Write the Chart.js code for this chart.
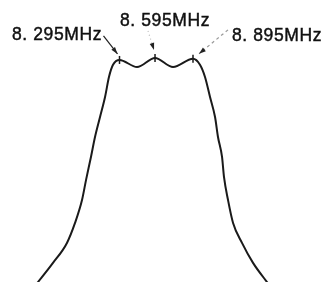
<!DOCTYPE html>
<html lang="en">
<head>
    <meta charset="UTF-8">
    <title>Passband response</title>
    <script src="https://cdn.jsdelivr.net/npm/chart.js@4.4.0/dist/chart.umd.min.js"></script>
    <style>
        html, body { margin: 0; padding: 0; background: #fff; }
        #wrap { width: 321px; height: 282px; }
    </style>
</head>
<body>
    <div id="wrap"><canvas id="bandChart" width="321" height="282"></canvas></div>
    <script>
        // curve: frequency (MHz) vs relative response
        const freqMHz = [7.564, 7.630, 7.752, 7.866, 7.932, 7.989, 8.022, 8.062, 8.095, 8.136, 8.177, 8.209, 8.242, 8.295,
                         8.438, 8.585, 8.732, 8.895,
                         8.952, 8.993, 9.034, 9.075, 9.099, 9.132, 9.148, 9.181, 9.222, 9.295, 9.385, 9.499, 9.564];
        const response = [-0.045, 0, 0.086, 0.176, 0.266, 0.369, 0.460, 0.563, 0.653, 0.743, 0.833, 0.923, 0.978, 1.0,
                          0.968, 1.009, 0.968, 1.005,
                          0.978, 0.923, 0.833, 0.743, 0.653, 0.563, 0.473, 0.369, 0.266, 0.176, 0.086, 0, -0.045];

        // the three marked peaks
        const peakFreqMHz = [8.295, 8.585, 8.895];
        const peakResponse = [1.0, 1.009, 1.005];
        const peakLabels = ['8. 295MHz', '8. 595MHz', '8. 895MHz'];

        // label placement: text start/baseline, arrow tail and tip relative to the peak, line style
        const marks = [
            { tx: 12, ty: 40, tail: [-16, -24], tip: [-2, -6], dash: [], color: '#222' },
            { tx: 120, ty: 26, tail: [-7, -27], tip: [-1, -8], dash: [1, 3], color: '#bbb' },
            { tx: 232, ty: 41, tail: [35, -29], tip: [6, -5], dash: [3, 3], color: '#999' }
        ];

        function arrowHead(ctx, x0, y0, x1, y1) {
            const a = Math.atan2(y1 - y0, x1 - x0);
            const len = 7, hw = 2.3;
            ctx.beginPath();
            ctx.moveTo(x1, y1);
            ctx.lineTo(x1 - len * Math.cos(a) + hw * Math.sin(a), y1 - len * Math.sin(a) - hw * Math.cos(a));
            ctx.lineTo(x1 - len * Math.cos(a) - hw * Math.sin(a), y1 - len * Math.sin(a) + hw * Math.cos(a));
            ctx.closePath();
            ctx.fill();
        }

        const peakNotes = {
            id: 'peakNotes',
            afterDatasetsDraw(chart) {
                const ctx = chart.ctx;
                const xs = chart.scales.x, ys = chart.scales.y;
                ctx.save();
                ctx.font = '17.5px "Liberation Sans", Arial, sans-serif';
                ctx.letterSpacing = '0.6px';
                ctx.textBaseline = 'alphabetic';
                peakLabels.forEach((label, i) => {
                    const m = marks[i];
                    const px = xs.getPixelForValue(peakFreqMHz[i]);
                    const py = ys.getPixelForValue(peakResponse[i]);
                    ctx.fillStyle = '#111';
                    ctx.strokeStyle = '#111';
                    ctx.lineWidth = 0.45;
                    ctx.fillText(label, m.tx, m.ty);
                    ctx.strokeText(label, m.tx, m.ty);

                    const x0 = px + m.tail[0], y0 = py + m.tail[1];
                    const x1 = px + m.tip[0], y1 = py + m.tip[1];
                    ctx.strokeStyle = m.color;
                    ctx.lineWidth = 1.2;
                    ctx.setLineDash(m.dash);
                    ctx.beginPath();
                    ctx.moveTo(x0, y0);
                    ctx.lineTo(x1, y1);
                    ctx.stroke();
                    ctx.setLineDash([]);
                    ctx.fillStyle = '#222';
                    arrowHead(ctx, x0, y0, x1, y1);
                });
                ctx.restore();
            }
        };

        new Chart(document.getElementById('bandChart'), {
            type: 'line',
            data: {
                datasets: [
                    {
                        data: freqMHz.map((f, i) => ({ x: f, y: response[i] })),
                        borderColor: '#1a1a1a',
                        borderWidth: 2,
                        pointRadius: 0,
                        cubicInterpolationMode: 'monotone',
                        fill: false
                    },
                    {
                        data: peakFreqMHz.map((f, i) => ({ x: f, y: peakResponse[i] })),
                        showLine: false,
                        pointStyle: 'line',
                        rotation: 90,
                        pointRadius: 4,
                        borderColor: '#1a1a1a',
                        borderWidth: 1.5
                    }
                ]
            },
            options: {
                responsive: false,
                animation: false,
                layout: { padding: 0, autoPadding: false },
                plugins: { legend: { display: false }, tooltip: { enabled: false } },
                scales: {
                    x: { type: 'linear', min: 7.3195, max: 9.9399, display: false },
                    y: { min: 0, max: 1.27, display: false }
                }
            },
            plugins: [peakNotes]
        });
    </script>
</body>
</html>
